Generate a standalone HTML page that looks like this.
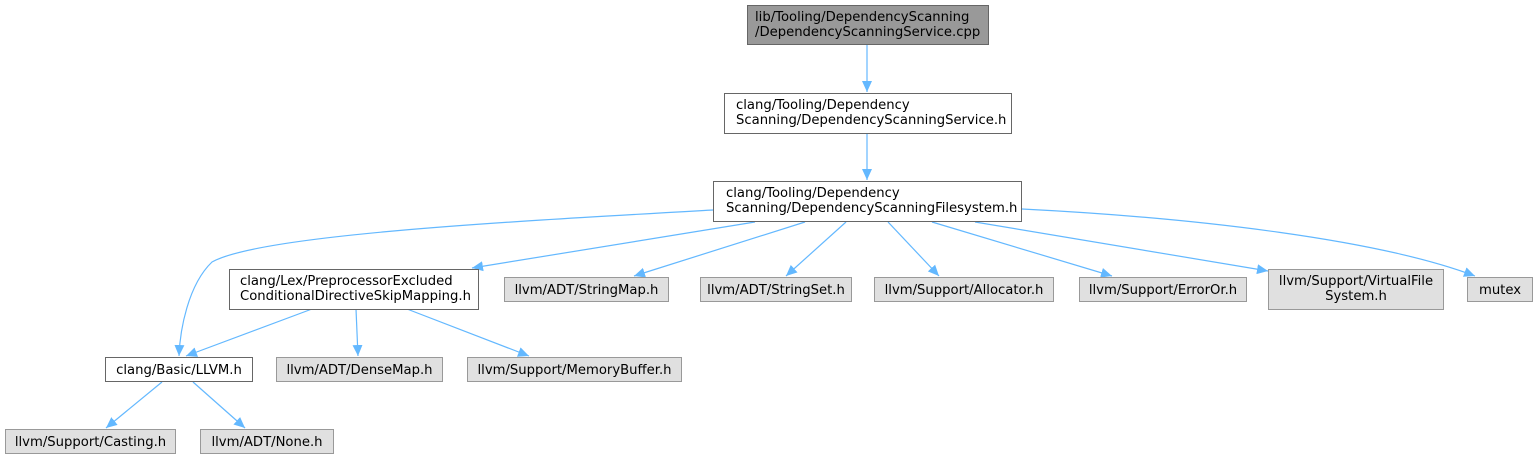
<!DOCTYPE html>
<html><head><meta charset="utf-8"><style>
html,body{margin:0;padding:0;background:#fff;}
svg text{font-family:"DejaVu Sans","Liberation Sans",sans-serif;font-size:13.2px;fill:#000;}
</style></head><body>
<svg width="1537" height="461" viewBox="0 0 1537 461" xmlns="http://www.w3.org/2000/svg">
<defs>
<marker id="a" markerWidth="12" markerHeight="12" refX="11" refY="6" orient="auto" markerUnits="userSpaceOnUse">
<path d="M0,1 L11,6 L0,11 Z" fill="#63b8ff"/>
</marker>
</defs>
<g fill="none" stroke="#63b8ff" stroke-width="1.2" marker-end="url(#a)">
<path d="M867,44 L867,92"/>
<path d="M867,133 L867,180"/>
<path d="M713,210 C500,222 260,235 212,262 C188,285 180,330 179,356"/>
<path d="M755,222 L472,268"/>
<path d="M805,222 L634,276"/>
<path d="M846,222 L786,276"/>
<path d="M888,222 L939,276"/>
<path d="M932,222 L1112,276"/>
<path d="M975,222 L1268,271"/>
<path d="M1022,209 C1200,218 1380,240 1475,276"/>
<path d="M312,309 L186,356"/>
<path d="M356,309 L358,356"/>
<path d="M407,309 L529,356"/>
<path d="M162,382 L106,428"/>
<path d="M193,382 L245,428"/>
</g>
<g stroke-width="1">
<rect x="747.5" y="5.5" width="241" height="39" fill="#999999" stroke="#666"/>
<rect x="724.5" y="93.5" width="287" height="40" fill="#fff" stroke="#666"/>
<rect x="713.5" y="181.5" width="308" height="40" fill="#fff" stroke="#666"/>
<rect x="229.5" y="269.5" width="249" height="40" fill="#fff" stroke="#666"/>
<rect x="504.5" y="277.5" width="164" height="24" fill="#e0e0e0" stroke="#999"/>
<rect x="700.5" y="277.5" width="151" height="24" fill="#e0e0e0" stroke="#999"/>
<rect x="874.5" y="277.5" width="179" height="24" fill="#e0e0e0" stroke="#999"/>
<rect x="1079.5" y="277.5" width="167" height="24" fill="#e0e0e0" stroke="#999"/>
<rect x="1268.5" y="269.5" width="175" height="40" fill="#e0e0e0" stroke="#999"/>
<rect x="1467.5" y="277.5" width="65" height="24" fill="#e0e0e0" stroke="#999"/>
<rect x="105.5" y="357.5" width="147" height="24" fill="#fff" stroke="#666"/>
<rect x="276.5" y="357.5" width="166" height="24" fill="#e0e0e0" stroke="#999"/>
<rect x="467.5" y="357.5" width="214" height="24" fill="#e0e0e0" stroke="#999"/>
<rect x="5.5" y="429.5" width="170" height="24" fill="#e0e0e0" stroke="#999"/>
<rect x="200.5" y="429.5" width="133" height="24" fill="#e0e0e0" stroke="#999"/>
</g>
<text x="755" y="21">lib/Tooling/DependencyScanning</text>
<text x="755" y="36">/DependencyScanningService.cpp</text>
<text x="736" y="109">clang/Tooling/Dependency</text>
<text x="736" y="124">Scanning/DependencyScanningService.h</text>
<text x="726" y="197">clang/Tooling/Dependency</text>
<text x="726" y="212">Scanning/DependencyScanningFilesystem.h</text>
<text x="240" y="285">clang/Lex/PreprocessorExcluded</text>
<text x="240" y="300">ConditionalDirectiveSkipMapping.h</text>
<g text-anchor="middle">
<text x="586.5" y="294">llvm/ADT/StringMap.h</text>
<text x="776" y="294">llvm/ADT/StringSet.h</text>
<text x="964" y="294">llvm/Support/Allocator.h</text>
<text x="1163" y="294">llvm/Support/ErrorOr.h</text>
<text x="1356" y="285">llvm/Support/VirtualFile</text>
<text x="1356" y="300">System.h</text>
<text x="1500" y="294">mutex</text>
<text x="179" y="374">clang/Basic/LLVM.h</text>
<text x="359.5" y="374">llvm/ADT/DenseMap.h</text>
<text x="574.5" y="374">llvm/Support/MemoryBuffer.h</text>
<text x="90.5" y="446">llvm/Support/Casting.h</text>
<text x="267" y="446">llvm/ADT/None.h</text>
</g>
</svg>
</body></html>
